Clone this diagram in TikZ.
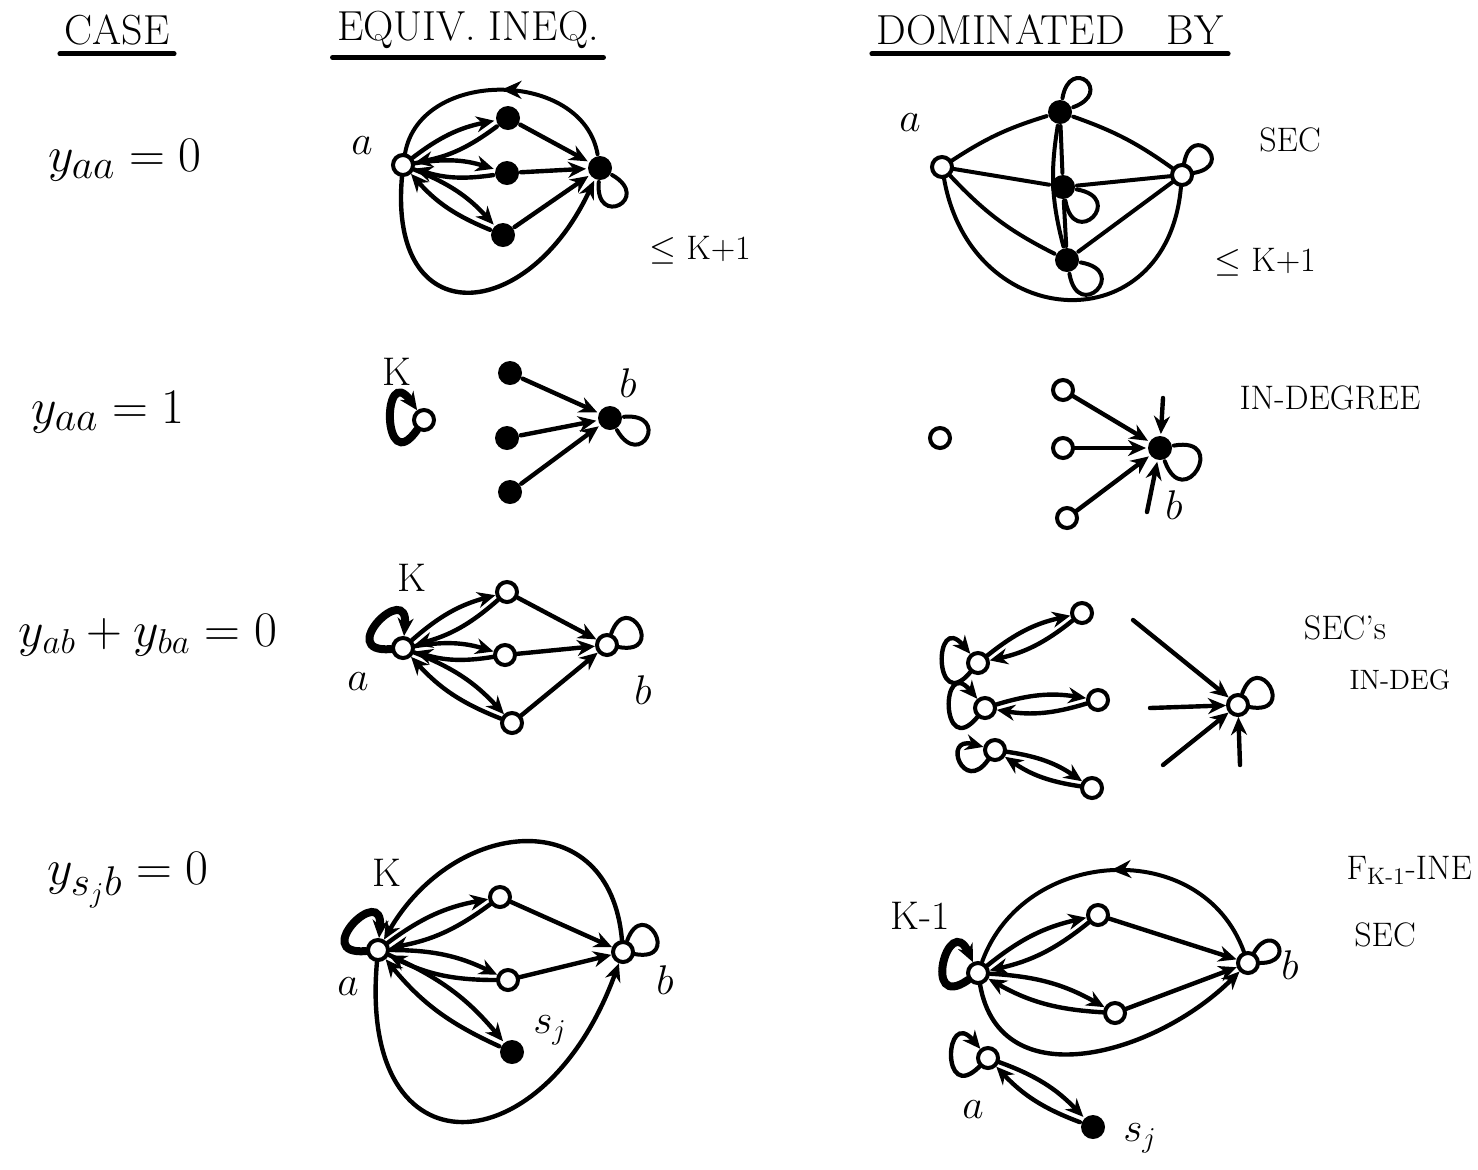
\documentclass[tikz,border=0pt]{standalone}
\usepackage{amsmath,amssymb}
\usetikzlibrary{arrows.meta,decorations.markings}

\begin{document}
\begin{tikzpicture}[
  x=0.5pt, y=0.5pt,
  line width=2pt, line cap=round,
  every loop/.style={},
  bigloop/.style={every loop/.style={min distance=8mm, looseness=8}},
  midloop/.style={every loop/.style={min distance=6mm}},
  opn/.style={circle, draw, line width=2pt, fill=white, inner sep=0pt, minimum size=10pt},
  ful/.style={circle, fill, inner sep=0pt, minimum size=12pt},
  ar/.style={-{Stealth[length=9pt,width=8pt]}, line width=2.2pt},
  two/.style={ar, bend left=13},
  kloop/.style={ar, line width=4pt},
  midar/.style={postaction={decorate}, decoration={markings,
                mark=at position 0.5 with {\arrow{Stealth[length=10pt,width=9pt]}}}},
  hd/.style={font=\fontsize{21}{25}\selectfont},
  rowlab/.style={font=\fontsize{31}{36}\selectfont},
  lab/.style={font=\fontsize{20}{24}\selectfont},
  note/.style={font=\fontsize{17}{20}\selectfont},
]
\useasboundingbox (0,0) rectangle (1478,-1169);

% ---------------- headings ----------------
\node[hd] (hcase) at (117,-30) {CASE};
\node[hd] (hequiv) at (468,-30) {EQUIV. INEQ.};
\node[hd] (hdom) at (1050,-30) {DOMINATED\quad BY};
\foreach \h in {hcase,hequiv,hdom}
  \draw[line width=2.4pt] ([xshift=2pt]\h.south west) -- ([xshift=-2pt]\h.south east);

% ---------------- cases ----------------
\node[rowlab] (c1) at (125,-160) {$y_{aa}=0$};
\node[rowlab] (c2) at (108,-412) {$y_{aa}=1$};
\node[rowlab, font=\fontsize{26}{30}\selectfont] (c3) at (148,-635) {$y_{ab}+y_{ba}=0$};
\node[rowlab] (c4) at (128,-880) {$y_{s_jb}=0$};

% ---------------- row 1: equivalent inequality ----------------
\node[opn] (a1) at (403,-165) {};
\node[lab] (la1) at (362,-146) {$a$};
\node[ful] (t1) at (508,-118) {};
\node[ful] (m1) at (507,-173) {};
\node[ful] (u1) at (503,-235) {};
\node[ful] (b1) at (600,-168) {};
\foreach \v in {t1,m1,u1} {
  \draw[two] (a1) to (\v);
  \draw[two] (\v) to (a1);
  \draw[ar] (\v) -- (b1);
}
\draw (b1) edge[out=-30, in=-95, loop] ();
\draw[midar] (b1) to[out=100, in=80, looseness=1.15] (a1);
\draw[ar] (a1) to[out=-95, in=-115, looseness=2.1] (b1);
\node[note] (r1) at (700,-250) {$\leq$ K+1};

% ---------------- row 1: dominated by ----------------
\node[opn] (da1) at (942,-167) {};
\node[lab] (lda1) at (910,-123) {$a$};
\node[ful] (dt1) at (1060,-112) {};
\node[opn] (dr1) at (1182,-175) {};
\node[ful] (dc1) at (1063,-187) {};
\node[ful] (dd1) at (1067,-260) {};
\draw (dt1) edge[out=80, in=20, loop] ();
\draw (dc1) edge[out=-10, in=-80, loop] ();
\draw (dr1) edge[out=80, in=10, loop] ();
\draw (dd1) edge[out=-10, in=-80, loop] ();
\draw (da1) to[bend left=8] (dt1);
\draw (dt1) to[bend left=8] (dr1);
\draw (da1) -- (dc1) -- (dr1);
\draw (dt1) -- (dc1) -- (dd1);
\draw (dt1) to[bend right=12] (dd1);
\draw (da1) to[bend right=10] (dd1);
\draw (dr1) -- (dd1);
\draw (da1) to[out=-80, in=-95, looseness=1.7] (dr1);
\node[note] (s1) at (1290,-140) {SEC};
\node[note] (r1b) at (1265,-262) {$\leq$ K+1};

% ---------------- row 2: equivalent inequality ----------------
\node[opn] (k2) at (424,-420) {};
\draw[kloop] (k2) edge[bigloop, out=235, in=125, loop] ();
\node[lab] (lk2) at (397,-372) {K};
\node[ful] (p2) at (510,-373) {};
\node[ful] (q2) at (507,-438) {};
\node[ful] (r2) at (510,-492) {};
\node[ful] (b2) at (610,-418) {};
\node[lab] (lb2) at (628,-383) {$b$};
\foreach \v in {p2,q2,r2} \draw[ar] (\v) -- (b2);
\draw (b2) edge[out=-60, in=5, loop] ();

% ---------------- row 2: dominated by ----------------
\node[opn] (iso2) at (940,-438) {};
\node[opn] (e2) at (1063,-390) {};
\node[opn] (f2) at (1063,-448) {};
\node[opn] (g2) at (1067,-518) {};
\node[ful] (h2) at (1160,-448) {};
\coordinate (ht2) at (1163,-398);
\coordinate (hb2) at (1147,-512);
\foreach \v in {e2,f2,g2} \draw[ar] (\v) -- (h2);
\draw[ar] (ht2) -- (h2);
\draw[ar] (hb2) -- (h2);
\draw (h2) edge[out=10, in=-70, loop] ();
\node[lab] (lh2) at (1174,-505) {$b$};
\node[note] (ind2) at (1330,-398) {IN-DEGREE};

% ---------------- row 3: equivalent inequality ----------------
\node[opn] (a3) at (403,-648) {};
\draw[kloop] (a3) edge[bigloop, out=185, in=85, loop] ();
\node[lab] (lk3) at (412,-578) {K};
\node[lab] (la3) at (358,-682) {$a$};
\node[opn] (p3) at (507,-592) {};
\node[opn] (q3) at (505,-655) {};
\node[opn] (r3) at (512,-723) {};
\node[opn] (b3) at (607,-645) {};
\node[lab] (lb3) at (643,-690) {$b$};
\foreach \v in {p3,q3,r3} {
  \draw[two] (a3) to (\v);
  \draw[two] (\v) to (a3);
  \draw[ar] (\v) -- (b3);
}
\draw (b3) edge[out=70, in=-10, loop] ();

% ---------------- row 3: dominated by ----------------
\node[opn] (x31) at (978,-663) {};
\node[opn] (y31) at (1082,-613) {};
\node[opn] (x32) at (985,-708) {};
\node[opn] (y32) at (1098,-700) {};
\node[opn] (x33) at (995,-750) {};
\node[opn] (y33) at (1092,-788) {};
\draw[ar] (x31) edge[midloop, out=230, in=130, loop] ();
\draw[ar] (x32) edge[midloop, out=230, in=130, loop] ();
\draw[ar] (x33) edge[midloop, out=-125, in=165, loop] ();
\foreach \u/\v in {x31/y31,x32/y32,x33/y33} {
  \draw[two] (\u) to (\v);
  \draw[two] (\v) to (\u);
}
\node[opn] (z3) at (1238,-705) {};
\draw (z3) edge[out=70, in=-10, loop] ();
\coordinate (w31) at (1133,-620);
\coordinate (w32) at (1150,-708);
\coordinate (w33) at (1163,-765);
\coordinate (w34) at (1240,-765);
\foreach \w in {w31,w32,w33,w34} \draw[ar] (\w) -- (z3);
\node[note] (sc3) at (1345,-628) {SEC's};
\node[note, font=\fontsize{14}{17}\selectfont] (ind3) at (1400,-680) {IN-DEG};

% ---------------- row 4: equivalent inequality ----------------
\node[opn] (a4) at (378,-950) {};
\draw[kloop] (a4) edge[bigloop, out=185, in=85, loop] ();
\node[lab] (lk4) at (387,-873) {K};
\node[lab] (la4) at (348,-987) {$a$};
\node[opn] (p4) at (500,-897) {};
\node[opn] (q4) at (508,-980) {};
\node[ful] (s4) at (512,-1052) {};
\node[lab] (ls4) at (550,-1030) {$s_j$};
\node[opn] (b4) at (623,-952) {};
\node[lab] (lb4) at (665,-980) {$b$};
\foreach \v in {p4,q4,s4} {
  \draw[two] (a4) to (\v);
  \draw[two] (\v) to (a4);
}
\draw[ar] (p4) -- (b4);
\draw[ar] (q4) -- (b4);
\draw (b4) edge[out=70, in=-10, loop] ();
\draw[ar] (b4) to[out=95, in=60, looseness=1.5] (a4);
\draw[ar] (a4) to[out=-95, in=-110, looseness=2.3] (b4);

% ---------------- row 4: dominated by ----------------
\node[opn] (a5) at (978,-973) {};
\draw[kloop] (a5) edge[midloop, out=215, in=115, loop] ();
\node[lab] (lk5) at (920,-916) {K-1};
\node[opn] (p5) at (1098,-915) {};
\node[opn] (q5) at (1115,-1013) {};
\node[opn] (b5) at (1248,-963) {};
\node[lab] (lb5) at (1290,-965) {$b$};
\foreach \v in {p5,q5} {
  \draw[two] (a5) to (\v);
  \draw[two] (\v) to (a5);
  \draw[ar] (\v) -- (b5);
}
\draw (b5) edge[out=60, in=0, loop] ();
\draw[midar] (b5) to[out=110, in=70, looseness=1.2] (a5);
\draw[ar] (a5) to[out=-80, in=-135, looseness=1.15] (b5);
\node[opn] (a6) at (988,-1058) {};
\draw[ar] (a6) edge[midloop, out=225, in=130, loop] ();
\node[lab] (la6) at (973,-1110) {$a$};
\node[ful] (s6) at (1093,-1127) {};
\node[lab] (ls6) at (1140,-1138) {$s_j$};
\draw[two] (a6) to (s6);
\draw[two] (s6) to (a6);
\node[note, anchor=west] (f5) at (1338,-870) {F$_{\text{K-1}}$-INE};
\node[note] (sec5) at (1385,-935) {SEC};
\end{tikzpicture}
\end{document}
